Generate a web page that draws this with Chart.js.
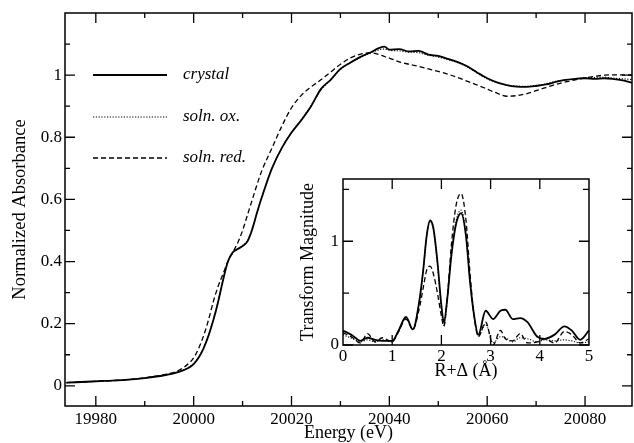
<!DOCTYPE html>
<html>
<head>
<meta charset="utf-8">
<script src="https://cdn.jsdelivr.net/npm/chart.js@4.4.1/dist/chart.umd.min.js"></script>
<style>
  html, body { margin: 0; padding: 0; background: #fff; }
  #wrap { position: relative; width: 634px; height: 443px; }
  #main { position: absolute; left: 0; top: 0; }
  #insetBox { position: absolute; left: 290px; top: 175px; width: 305px; height: 210px; background: #fff; }
</style>
</head>
<body>
<div id="wrap">
  <canvas id="main" width="634" height="443"></canvas>
  <div id="insetBox"><canvas id="inset" width="305" height="210"></canvas></div>
</div>
<script>
// Spectre XANES (graphique principal)
const energy = [19974, 19978, 19982, 19986, 19990, 19994, 19997, 19999, 20000, 20001, 20002, 20003,
  20004, 20005, 20006, 20007, 20008, 20009, 20010, 20011, 20012, 20013, 20014, 20016, 20018, 20020,
  20022, 20024, 20026, 20028, 20030, 20032, 20034, 20036, 20038, 20039, 20040, 20042, 20044, 20046,
  20048, 20050, 20052, 20054, 20056, 20058, 20060, 20062, 20064, 20066, 20068, 20070, 20072, 20074,
  20076, 20078, 20080, 20082, 20084, 20086, 20088, 20090];
const crystal = [0.010, 0.013, 0.016, 0.019, 0.025, 0.034, 0.045, 0.058, 0.070, 0.090, 0.120, 0.160,
  0.210, 0.270, 0.340, 0.400, 0.430, 0.440, 0.450, 0.465, 0.505, 0.560, 0.610, 0.700, 0.765, 0.815,
  0.855, 0.900, 0.955, 0.985, 1.020, 1.040, 1.058, 1.072, 1.088, 1.092, 1.082, 1.084, 1.076, 1.078,
  1.066, 1.062, 1.052, 1.042, 1.028, 1.008, 0.990, 0.977, 0.968, 0.963, 0.962, 0.965, 0.970, 0.978,
  0.985, 0.988, 0.990, 0.988, 0.990, 0.987, 0.982, 0.974];
const solnOx = [0.010, 0.013, 0.016, 0.019, 0.025, 0.034, 0.046, 0.060, 0.072, 0.092, 0.122, 0.162,
  0.212, 0.272, 0.340, 0.398, 0.428, 0.440, 0.452, 0.468, 0.508, 0.560, 0.612, 0.700, 0.765, 0.815,
  0.857, 0.902, 0.952, 0.985, 1.018, 1.040, 1.056, 1.070, 1.082, 1.084, 1.080, 1.078, 1.074, 1.072,
  1.064, 1.058, 1.050, 1.040, 1.026, 1.006, 0.988, 0.976, 0.968, 0.965, 0.964, 0.967, 0.972, 0.980,
  0.984, 0.988, 0.992, 0.992, 0.993, 0.990, 0.988, 0.985];
const solnRed = [0.010, 0.013, 0.016, 0.019, 0.026, 0.036, 0.050, 0.072, 0.090, 0.120, 0.160, 0.210,
  0.270, 0.320, 0.360, 0.400, 0.430, 0.460, 0.500, 0.550, 0.600, 0.650, 0.695, 0.765, 0.835, 0.895,
  0.935, 0.962, 0.985, 1.010, 1.035, 1.055, 1.067, 1.072, 1.066, 1.060, 1.055, 1.043, 1.035, 1.028,
  1.020, 1.012, 1.003, 0.992, 0.980, 0.968, 0.955, 0.942, 0.932, 0.934, 0.940, 0.950, 0.960, 0.970,
  0.978, 0.985, 0.991, 0.996, 1.000, 1.001, 1.001, 1.000];
const energyTicks = [19980, 20000, 20020, 20040, 20060, 20080];
const energyMinor = [19990, 20010, 20030, 20050, 20070];
const absTicks = [0, 0.2, 0.4, 0.6, 0.8, 1];
const absMinor = [0.1, 0.3, 0.5, 0.7, 0.9, 1.1];

// Transformée de Fourier (encart)
const rDist = [0, 0.2, 0.35, 0.5, 0.65, 0.8, 1.0, 1.12, 1.28, 1.42, 1.55, 1.63, 1.7, 1.77, 1.84, 1.92,
  2.0, 2.05, 2.12, 2.2, 2.3, 2.4, 2.5, 2.58, 2.66, 2.75, 2.9, 3.05, 3.2, 3.3, 3.45, 3.6, 3.75, 3.95,
  4.1, 4.3, 4.5, 4.65, 4.82, 5.0];
const ftCrystal = [0.14, 0.09, 0.04, 0.07, 0.05, 0.04, 0.04, 0.13, 0.27, 0.15, 0.42, 0.72, 1.05, 1.2,
  1.12, 0.8, 0.38, 0.22, 0.45, 0.85, 1.17, 1.27, 1.05, 0.62, 0.3, 0.1, 0.33, 0.25, 0.33, 0.34, 0.25,
  0.26, 0.22, 0.08, 0.06, 0.1, 0.18, 0.14, 0.05, 0.14];
const ftOx = [0.10, 0.06, 0.03, 0.05, 0.03, 0.05, 0.03, 0.12, 0.26, 0.15, 0.42, 0.72, 1.05, 1.19,
  1.1, 0.78, 0.35, 0.19, 0.45, 0.88, 1.2, 1.3, 1.07, 0.62, 0.3, 0.09, 0.2, 0.02, 0.08, 0.07, 0.03,
  0.07, 0.06, 0.03, 0.05, 0.04, 0.05, 0.04, 0.02, 0.03];
const ftRed = [0.12, 0.07, 0.02, 0.11, 0.03, 0.07, 0.03, 0.12, 0.25, 0.15, 0.35, 0.55, 0.72, 0.76,
  0.68, 0.5, 0.28, 0.18, 0.45, 0.95, 1.35, 1.46, 1.2, 0.7, 0.3, 0.08, 0.22, 0.0, 0.14, 0.06, 0.04,
  0.11, 0.02, 0.03, 0.06, 0.02, 0.13, 0.1, 0.02, 0.06];
const rTicks = [0, 1, 2, 3, 4, 5];
const ftTicks = [0, 1];
const ftMinor = [0.5, 1.5];

const labels = ['crystal', 'soln. ox.', 'soln. red.'];
const serif = '"Liberation Serif", "Times New Roman", serif';

Chart.defaults.font.family = serif;
Chart.defaults.font.size = 17;
Chart.defaults.color = '#000';

function pts(xs, ys) {
  return xs.map((v, i) => ({ x: v, y: ys[i] }));
}

function lineSet(label, xs, ys, style) {
  return Object.assign({
    label: label,
    data: pts(xs, ys),
    borderColor: '#000',
    pointRadius: 0,
    fill: false,
    cubicInterpolationMode: 'monotone'
  }, style);
}

const solidStyle = { borderWidth: 1.8 };
const dotStyle = { borderWidth: 1.1, borderDash: [1.2, 1.6] };
const dashStyle = { borderWidth: 1.3, borderDash: [5, 3] };

// Cadre + graduations vers l'intérieur sur les 4 côtés
const frameTicks = {
  id: 'frameTicks',
  afterDatasetsDraw(chart, args, opts) {
    const { ctx, chartArea: a, scales } = chart;
    const x = scales.x, y = scales.y;
    ctx.save();
    ctx.strokeStyle = '#000';
    ctx.lineWidth = 1.5;
    ctx.strokeRect(a.left, a.top, a.right - a.left, a.bottom - a.top);
    ctx.lineWidth = 1.3;
    ctx.beginPath();
    function xMarks(vals, len) {
      vals.forEach(v => {
        const px = x.getPixelForValue(v);
        ctx.moveTo(px, a.bottom); ctx.lineTo(px, a.bottom - len);
        ctx.moveTo(px, a.top); ctx.lineTo(px, a.top + len);
      });
    }
    function yMarks(vals, len) {
      vals.forEach(v => {
        const py = y.getPixelForValue(v);
        ctx.moveTo(a.left, py); ctx.lineTo(a.left + len, py);
        ctx.moveTo(a.right, py); ctx.lineTo(a.right - len, py);
      });
    }
    xMarks(opts.xMajor, opts.major);
    xMarks(opts.xMinor, opts.minor);
    yMarks(opts.yMajor, opts.major);
    yMarks(opts.yMinor, opts.minor);
    ctx.stroke();
    ctx.restore();
  }
};

// Légende dessinée à la main dans le coin haut gauche
const lineLegend = {
  id: 'lineLegend',
  afterDraw(chart) {
    const ctx = chart.ctx;
    const rows = [75, 117, 158];
    ctx.save();
    labels.forEach((name, i) => {
      const ds = chart.data.datasets.find(d => d.label === name);
      ctx.beginPath();
      ctx.strokeStyle = '#000';
      ctx.lineWidth = ds.borderWidth;
      ctx.setLineDash(ds.borderDash || []);
      ctx.moveTo(93, rows[i]);
      ctx.lineTo(167, rows[i]);
      ctx.stroke();
      ctx.setLineDash([]);
      ctx.fillStyle = '#000';
      ctx.font = 'italic 17px ' + serif;
      ctx.textBaseline = 'middle';
      ctx.textAlign = 'left';
      ctx.fillText(ds.label, 183, rows[i]);
    });
    ctx.restore();
  }
};

// taille fixe de l'axe, sans marge ajoutée pour les libellés extrêmes
function fixSize(prop, size) {
  return s => {
    s[prop] = size;
    s.paddingTop = 0; s.paddingBottom = 0;
    s.paddingLeft = 0; s.paddingRight = 0;
  };
}

function axis(min, max, ticks, pad, opts) {
  return Object.assign({
    type: 'linear',
    min: min,
    max: max,
    grid: { display: false, drawTicks: false },
    border: { display: false },
    afterBuildTicks: s => { s.ticks = ticks.map(v => ({ value: v })); },
    ticks: {
      color: '#000',
      font: { family: serif, size: 17 },
      maxRotation: 0,
      autoSkip: false,
      padding: pad,
      callback: v => String(v)
    }
  }, opts);
}

new Chart(document.getElementById('main'), {
  type: 'line',
  data: {
    datasets: [
      lineSet(labels[2], energy, solnRed, dashStyle),
      lineSet(labels[1], energy, solnOx, dotStyle),
      lineSet(labels[0], energy, crystal, solidStyle)
    ]
  },
  options: {
    responsive: false,
    animation: false,
    layout: { padding: { left: 0, right: 2, top: 13, bottom: 0 } },
    plugins: {
      legend: { display: false },
      tooltip: { enabled: false },
      frameTicks: { xMajor: energyTicks, xMinor: energyMinor, yMajor: absTicks, yMinor: absMinor, major: 10, minor: 5 }
    },
    scales: {
      x: axis(19973.7, 20089.6, energyTicks, 3, {
        afterFit: fixSize('height', 37),
        title: { display: true, text: 'Energy (eV)', color: '#000', font: { family: serif, size: 18 }, padding: { top: 0, bottom: -1 } }
      }),
      y: axis(-0.065, 1.2, absTicks, 3, {
        afterFit: fixSize('width', 65),
        title: { display: true, text: 'Normalized Absorbance', color: '#000', font: { family: serif, size: 18.5 }, padding: { top: 9, bottom: 0 } }
      })
    }
  },
  plugins: [frameTicks, lineLegend]
});

new Chart(document.getElementById('inset'), {
  type: 'line',
  data: {
    datasets: [
      lineSet(labels[2], rDist, ftRed, dashStyle),
      lineSet(labels[1], rDist, ftOx, dotStyle),
      lineSet(labels[0], rDist, ftCrystal, solidStyle)
    ]
  },
  options: {
    responsive: false,
    animation: false,
    layout: { padding: { left: 0, right: 6, top: 4, bottom: 0 } },
    plugins: {
      legend: { display: false },
      tooltip: { enabled: false },
      frameTicks: { xMajor: rTicks.slice(1, 5), xMinor: [], yMajor: ftTicks, yMinor: ftMinor, major: 10, minor: 6 }
    },
    scales: {
      x: axis(0, 5, rTicks, 1, {
        afterFit: fixSize('height', 40),
        title: { display: true, text: 'R+\u0394 (\u00c5)', color: '#000', font: { family: serif, size: 18 }, padding: { top: 0, bottom: 3 } }
      }),
      y: axis(0, 1.6, ftTicks, 4, {
        afterFit: fixSize('width', 53),
        title: { display: true, text: 'Transform Magnitude', color: '#000', font: { family: serif, size: 18 }, padding: { top: 7, bottom: 0 } }
      })
    }
  },
  plugins: [frameTicks]
});
</script>
</body>
</html>
